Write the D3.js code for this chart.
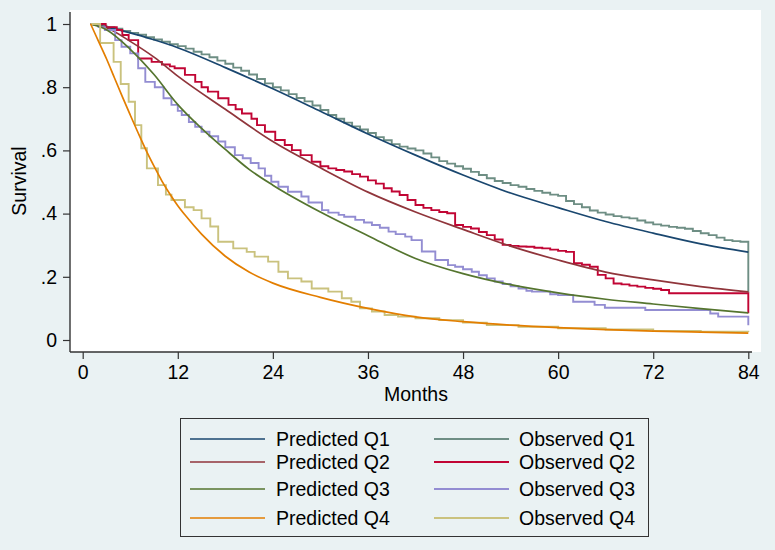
<!DOCTYPE html>
<html>
<head>
<meta charset="utf-8">
<script src="https://cdn.jsdelivr.net/npm/d3@7"></script>
<style>
  body { margin: 0; background: #eaf2f3; }
  text { font-family: "Liberation Sans", Arial, sans-serif; fill: #000; }
</style>
</head>
<body>
<script>
var width = 775;
var height = 550;

// Tick values and labels
var monthTicks = [0, 12, 24, 36, 48, 60, 72, 84];
var survTicks = [0, 0.2, 0.4, 0.6, 0.8, 1];
var survLabels = ["0", ".2", ".4", ".6", ".8", "1"];

// Predicted survival, [month, survival]
var predQ1 = [[1,1],[3,0.99],[6,0.972],[9,0.95],[12,0.925],[18,0.862],[24,0.795],[30,0.724],[36,0.652],[42,0.585],
              [48,0.522],[54,0.465],[60,0.419],[66,0.375],[72,0.338],[78,0.304],[84,0.278]];
var predQ2 = [[1,1],[3,0.988],[6,0.945],[9,0.895],[12,0.835],[18,0.73],[24,0.628],[30,0.545],[36,0.468],[42,0.405],
              [48,0.35],[54,0.297],[60,0.253],[66,0.215],[72,0.19],[78,0.169],[84,0.152]];
var predQ3 = [[1,1],[3,0.982],[6,0.92],[9,0.84],[12,0.745],[15,0.67],[18,0.603],[21,0.54],[24,0.49],[30,0.405],
              [36,0.33],[42,0.258],[48,0.21],[54,0.175],[60,0.149],[66,0.129],[72,0.114],[78,0.099],[84,0.086]];
var predQ4 = [[1,1],[2,0.945],[3,0.89],[4,0.83],[5,0.77],[6,0.712],[7,0.655],[8,0.6],[9,0.55],[10,0.503],
              [11,0.462],[12,0.425],[13,0.393],[15,0.335],[18,0.265],[21,0.215],[24,0.18],[30,0.135],[36,0.1],
              [42,0.073],[48,0.058],[54,0.047],[60,0.039],[66,0.033],[72,0.028],[78,0.025],[84,0.022]];

// Observed (Kaplan-Meier) survival, steps at [month, survival]
var obsQ1 = [[1,1],[2,0.995],[3,0.99],[4,0.985],[5,0.978],[6,0.972],[7,0.966],[8,0.958],[9,0.951],[10,0.944],
             [11,0.936],[12,0.93],[13,0.922],[14,0.912],[15,0.904],[16,0.895],[17,0.884],[18,0.874],[19,0.862],
             [20,0.852],[21,0.84],[22,0.826],[23,0.812],[24,0.8],[25,0.79],[26,0.778],[27,0.766],[28,0.755],
             [29,0.742],[30,0.728],[31,0.712],[32,0.7],[33,0.688],[34,0.676],[35,0.666],[36,0.655],[37,0.642],
             [38,0.632],[39,0.62],[40,0.612],[41,0.606],[42,0.6],[43,0.59],[44,0.578],[45,0.566],[46,0.558],
             [47,0.55],[48,0.542],[49,0.532],[50,0.522],[51,0.512],[52,0.503],[53,0.497],[54,0.49],[55,0.485],
             [56,0.478],[57,0.472],[58,0.466],[59,0.46],[60,0.456],[61,0.44],[62,0.43],[63,0.42],[64,0.41],
             [65,0.403],[66,0.397],[67,0.392],[68,0.388],[69,0.385],[70,0.378],[71,0.372],[72,0.366],[73,0.362],
             [74,0.358],[75,0.355],[76,0.352],[77,0.345],[78,0.338],[79,0.332],[80,0.324],[81,0.316],[82,0.313],
             [83,0.311],[84,0.15]];
var obsQ2 = [[1,1],[2.9,0.99],[4.3,0.981],[5,0.965],[5.8,0.949],[7,0.891],[8.7,0.88],[10,0.872],[11,0.866],
             [11.6,0.86],[12.9,0.839],[14.2,0.817],[15,0.80],[15.8,0.786],[17.1,0.765],[18.4,0.744],[19.3,0.73],
             [20.1,0.717],[21.3,0.70],[22,0.68],[23,0.659],[24.3,0.633],[25.5,0.617],[26.4,0.601],[27.5,0.585],
             [28.9,0.564],[30,0.55],[31,0.543],[32,0.538],[33,0.533],[34,0.525],[35,0.517],[36,0.505],[37,0.495],
             [38,0.48],[39,0.47],[40,0.459],[41,0.443],[42,0.427],[43,0.418],[44,0.411],[45,0.405],[46,0.401],
             [47,0.364],[48,0.358],[49,0.353],[50,0.342],[51,0.332],[52,0.318],[53,0.301],[54,0.298],[55,0.296],
             [56,0.295],[57,0.292],[58,0.29],[59,0.286],[60,0.282],[61,0.279],[62,0.243],[63,0.238],[64,0.232],
             [65,0.206],[66,0.195],[67,0.179],[68,0.176],[69,0.172],[70,0.169],[71,0.165],[72,0.162],[73,0.158],
             [74,0.148],[84,0.085]];
var obsQ3 = [[1,1],[2,0.99],[2.8,0.981],[4.1,0.949],[4.9,0.928],[6,0.907],[7,0.86],[7.9,0.817],[9.1,0.80],
             [10.2,0.765],[11.2,0.744],[12,0.725],[12.5,0.712],[13.4,0.69],[14.2,0.675],[15,0.659],[16,0.645],
             [17.1,0.628],[18,0.61],[19.2,0.585],[20.2,0.575],[21.2,0.56],[22.2,0.543],[23,0.52],[23.8,0.501],
             [24.7,0.485],[25.9,0.469],[27.6,0.454],[28.5,0.435],[30.2,0.411],[31,0.403],[32.3,0.396],[33,0.39],
             [34.4,0.38],[35.5,0.372],[36.5,0.364],[37.5,0.355],[38.6,0.343],[39.5,0.335],[40.7,0.327],[41.5,0.316],
             [42.8,0.28],[44.5,0.253],[46.1,0.237],[47,0.232],[48,0.224],[49.1,0.216],[50,0.205],[51,0.195],
             [52,0.185],[53,0.177],[54,0.17],[55,0.163],[56,0.156],[56.7,0.153],[59,0.145],[60,0.142],[61.9,0.121],
             [64.6,0.111],[65.9,0.102],[71,0.095],[79.2,0.084],[80.2,0.074],[84,0.047]];
var obsQ4 = [[1,1],[2.2,0.94],[3.9,0.88],[4.8,0.81],[5.8,0.754],[6.6,0.68],[7.4,0.607],[8.1,0.543],[9.5,0.49],
             [10.5,0.46],[11.2,0.443],[12.9,0.42],[14,0.411],[15,0.385],[16.1,0.359],[17.1,0.311],[19,0.29],
             [20.7,0.279],[21.7,0.264],[23.4,0.248],[24.7,0.216],[25.9,0.195],[27.6,0.185],[28.9,0.163],[31,0.153],
             [32.7,0.132],[33.9,0.121],[35,0.1],[36.5,0.09],[38.1,0.079],[39.8,0.074],[42,0.069],[45,0.063],
             [48,0.055],[51,0.047],[55,0.042],[60,0.037],[66,0.033],[72,0.029],[78,0.026],[84,0.025]];

var predNames = ["Predicted Q1", "Predicted Q2", "Predicted Q3", "Predicted Q4"];
var obsNames = ["Observed Q1", "Observed Q2", "Observed Q3", "Observed Q4"];
var predColors = ["#1a476f", "#90353b", "#55752f", "#e37e00"];
var obsColors = ["#6e8e84", "#c10534", "#938dd2", "#cac27e"];
var predData = [predQ1, predQ2, predQ3, predQ4];
var obsData = [obsQ1, obsQ2, obsQ3, obsQ4];

var fontSize = 19.5;

var svg = d3.select("body")
            .append("svg")
            .attr("width", width)
            .attr("height", height);

svg.append("rect")
   .attr("width", width)
   .attr("height", height)
   .attr("fill", "#eaf2f3");

// Plot region
svg.append("rect")
   .attr("x", 70)
   .attr("y", 10)
   .attr("width", 691)
   .attr("height", 342)
   .attr("fill", "white");

var x = d3.scaleLinear().domain([0, 84]).range([82.7, 748.3]);
var y = d3.scaleLinear().domain([0, 1]).range([340, 24]);

// Axes
var yAxis = svg.append("g")
               .attr("transform", "translate(70,0)")
               .call(d3.axisLeft(y)
                       .tickValues(survTicks)
                       .tickFormat((d, i) => survLabels[i])
                       .tickSize(7)
                       .tickPadding(6));

var xAxis = svg.append("g")
               .attr("transform", "translate(0,352)")
               .call(d3.axisBottom(x)
                       .tickValues(monthTicks)
                       .tickSize(7)
                       .tickPadding(6));

[yAxis, xAxis].forEach(g => {
  g.select(".domain").remove();
  g.attr("font-size", fontSize)
   .attr("font-family", "'Liberation Sans', Arial, sans-serif");
  g.selectAll(".tick line").attr("stroke", "#333").attr("stroke-width", 1.2);
});

svg.append("line")
   .attr("x1", 70).attr("x2", 70)
   .attr("y1", 12).attr("y2", 352)
   .attr("stroke", "#333")
   .attr("stroke-width", 1.4);

svg.append("line")
   .attr("x1", 70).attr("x2", 752)
   .attr("y1", 352).attr("y2", 352)
   .attr("stroke", "#333")
   .attr("stroke-width", 1.4);

svg.append("text")
   .attr("x", 416)
   .attr("y", 401)
   .attr("text-anchor", "middle")
   .attr("font-size", fontSize)
   .text("Months");

svg.append("text")
   .attr("transform", "translate(26,181)rotate(-90)")
   .attr("text-anchor", "middle")
   .attr("font-size", fontSize)
   .text("Survival");

// Curves
var smooth = d3.line()
               .x(d => x(d[0]))
               .y(d => y(d[1]))
               .curve(d3.curveMonotoneX);

var steps = d3.line()
              .x(d => x(d[0]))
              .y(d => y(d[1]))
              .curve(d3.curveStepAfter);

predData.forEach((series, i) => {
  svg.append("path")
     .attr("fill", "none")
     .attr("stroke", obsColors[i])
     .attr("stroke-width", 1.9)
     .attr("d", steps(obsData[i]));

  svg.append("path")
     .attr("fill", "none")
     .attr("stroke", predColors[i])
     .attr("stroke-width", 1.7)
     .attr("d", smooth(series));
});

// Legend
var rowY = [439, 462, 489, 518];

svg.append("rect")
   .attr("x", 180.5)
   .attr("y", 418.5)
   .attr("width", 468)
   .attr("height", 118)
   .attr("fill", "#eaf2f3")
   .attr("stroke", "#333")
   .attr("stroke-width", 1);

var rows = svg.selectAll(".legrow")
              .data(predNames)
              .enter()
              .append("g")
              .attr("class", "legrow")
              .attr("transform", (d, i) => "translate(0," + rowY[i] + ")");

rows.append("line")
    .attr("x1", 190).attr("x2", 265)
    .attr("stroke", (d, i) => predColors[i])
    .attr("stroke-width", 1.7);

rows.append("text")
    .attr("x", 276)
    .attr("dy", "0.35em")
    .attr("font-size", fontSize)
    .text(d => d);

rows.append("line")
    .attr("x1", 434).attr("x2", 509)
    .attr("stroke", (d, i) => obsColors[i])
    .attr("stroke-width", 1.9);

rows.append("text")
    .attr("x", 519)
    .attr("dy", "0.35em")
    .attr("font-size", fontSize)
    .text((d, i) => obsNames[i]);
</script>
</body>
</html>
